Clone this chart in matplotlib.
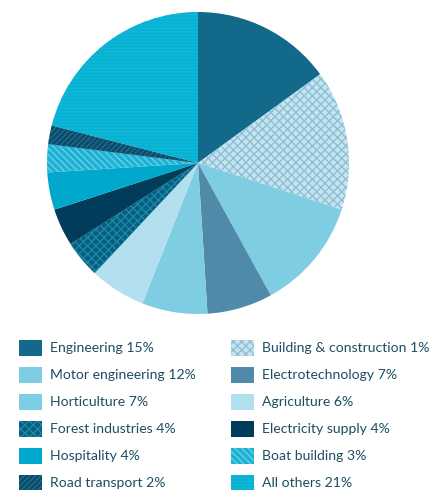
import matplotlib.pyplot as plt
from matplotlib.patches import Rectangle

plt.rcParams["font.family"] = ["Lato", "DejaVu Sans"]
plt.rcParams["hatch.linewidth"] = 1.0

# sector shares, clockwise from 12 o'clock
sectors = ["Engineering", "Building & construction", "Motor engineering",
           "Electrotechnology", "Horticulture", "Agriculture",
           "Forest industries", "Electricity supply", "Hospitality",
           "Boat building", "Road transport", "All others"]
shares = [15, 15, 12, 7, 7, 6, 4, 4, 4, 3, 2, 21]
# percentages as printed in the key
printed = ["15%", "1%", "12%", "7%", "7%", "6%", "4%", "4%", "4%", "3%", "2%", "21%"]

faces = ["#13698a", "#c4e5f0", "#7ecde2", "#4f8aa8", "#7ecde2", "#b3e0ee",
         "#0b5d7c", "#013c5a", "#00a8cb", "#1cb2d5", "#0c4a69", "#05b2d3"]
hatches = [None, "xxxx", None, None, None, None,
           "xxxx", None, None, "\\\\\\\\\\", "//////", "-----"]
hatch_cols = [None, "#8fbfd5", None, None, None, None,
              "#1689ad", None, None, "#6ccde4", "#1f6c8c", "#12b7d6"]

fig = plt.figure(figsize=(4.38, 4.90), dpi=100)
W, H = 438, 490
ax = fig.add_axes([47 / W, 1 - 314 / H, 302 / W, 302 / H])
wedges, _ = ax.pie(shares, colors=faces, startangle=90, counterclock=False,
                   radius=1, wedgeprops=dict(linewidth=0))
for w, h, hc in zip(wedges, hatches, hatch_cols):
    if h:
        w.set_hatch(h)
        w.set_edgecolor(hc)
        w.set_linewidth(0)
ax.set_xlim(-1, 1)
ax.set_ylim(-1, 1)
ax.set_aspect("equal")
ax.axis("off")

# key: two columns, read row by row
text_col = "#1d4d63"
for i, (name, pct, w) in enumerate(zip(sectors, printed, wedges)):
    row, col = divmod(i, 2)
    x0 = 19 if col == 0 else 231
    yc = 348 + row * 27
    box = Rectangle((x0 / W, 1 - (yc + 8) / H), 23 / W, 16 / H,
                    transform=fig.transFigure, facecolor=w.get_facecolor(),
                    linewidth=0)
    if w.get_hatch():
        box.set_hatch(w.get_hatch())
        box.set_edgecolor(w.get_edgecolor())
    fig.add_artist(box)
    fig.text((x0 + 31) / W, 1 - yc / H, f"{name} {pct}", fontsize=10.1,
             color=text_col, va="center", ha="left")

fig.savefig("out.png", dpi=100)
